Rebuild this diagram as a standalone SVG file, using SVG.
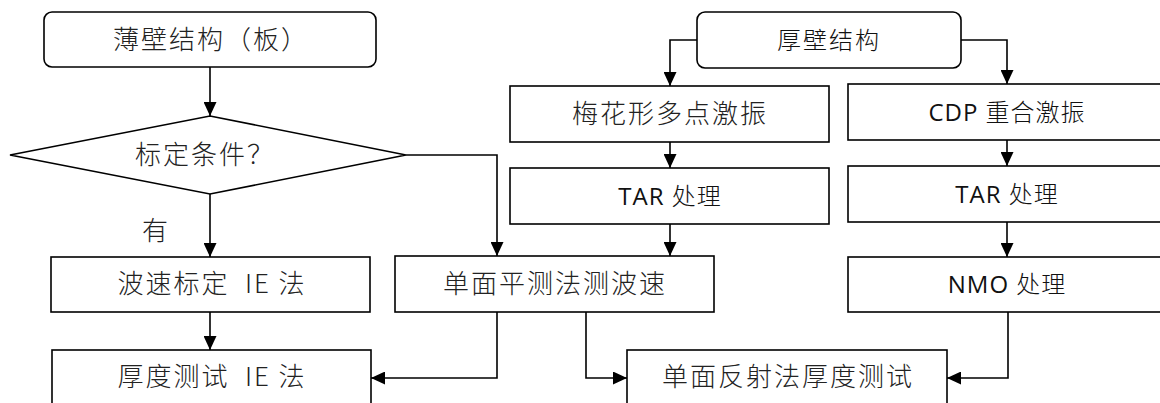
<svg xmlns="http://www.w3.org/2000/svg" width="1160" height="403" viewBox="0 0 1160 403">
<defs>
<marker id="ah" markerUnits="userSpaceOnUse" markerWidth="15" markerHeight="13" refX="14" refY="6.5" orient="auto">
<path d="M0,0 L14,6.5 L0,13 Z" fill="#000"/>
</marker>
<style>
.box{fill:#fff;stroke:#000;stroke-width:1.6}
.t{font-family:"Noto Sans CJK SC","Liberation Sans",sans-serif;font-size:26px;font-weight:300;fill:#222;text-anchor:middle;letter-spacing:2px}
.s{font-family:"Open Sans","Noto Sans CJK SC",sans-serif;font-size:24px;font-weight:300;fill:#111;text-anchor:middle;letter-spacing:1px}
.l{font-weight:400}
.c{fill:none;stroke:#000;stroke-width:1.6}
</style>
</defs>
<rect width="1160" height="403" fill="#fff"/>
<g id="thin">
<rect class="box" x="44" y="12" width="332" height="55" rx="8"/>
<text class="t" x="211" y="49">薄壁结构（板）</text>
</g>
<g id="cond">
<polygon class="box" points="210,116 406,155 210,194 10,155"/>
<text class="t" x="205" y="164">标定条件？</text>
</g>
<g id="label-you">
<text class="t" x="156" y="240">有</text>
</g>
<g id="calib">
<rect class="box" x="51" y="257" width="319" height="55"/>
<text class="t" x="212" y="293" xml:space="preserve">波速标定  IE 法</text>
</g>
<g id="thickIE">
<rect class="box" x="52" y="350" width="319" height="58"/>
<text class="t" x="212" y="386" xml:space="preserve">厚度测试  IE 法</text>
</g>
<g id="thick">
<rect class="box" x="697" y="12" width="264" height="56" rx="8"/>
<text class="s" x="829" y="49" style="letter-spacing:2px">厚壁结构</text>
</g>
<g id="plum">
<rect class="box" x="510" y="86" width="319" height="56"/>
<text class="t" x="670" y="123">梅花形多点激振</text>
</g>
<g id="cdp">
<rect class="box" x="848" y="84" width="320" height="56"/>
<text class="s" x="1007" y="121"><tspan class="l">CDP </tspan>重合激振</text>
</g>
<g id="tar1">
<rect class="box" x="510" y="168" width="319" height="56"/>
<text class="s" x="670" y="205"><tspan class="l">TAR </tspan>处理</text>
</g>
<g id="tar2">
<rect class="box" x="848" y="166" width="320" height="56"/>
<text class="s" x="1007" y="203"><tspan class="l">TAR </tspan>处理</text>
</g>
<g id="nmo">
<rect class="box" x="848" y="257" width="320" height="55"/>
<text class="s" x="1007" y="293"><tspan class="l">NMO </tspan>处理</text>
</g>
<g id="plane">
<rect class="box" x="395" y="256" width="319" height="56"/>
<text class="t" x="555" y="293">单面平测法测波速</text>
</g>
<g id="reflect">
<rect class="box" x="627" y="350" width="320" height="58"/>
<text class="t" x="788" y="386">单面反射法厚度测试</text>
</g>
<g id="connectors">
<path class="c" d="M210,67 V116" marker-end="url(#ah)"/>
<path class="c" d="M210,194 V257" marker-end="url(#ah)"/>
<path class="c" d="M210,312 V350" marker-end="url(#ah)"/>
<path class="c" d="M406,155 H497 V256" marker-end="url(#ah)"/>
<path class="c" d="M697,40 H670 V86" marker-end="url(#ah)"/>
<path class="c" d="M961,40 H1007 V84" marker-end="url(#ah)"/>
<path class="c" d="M670,142 V168" marker-end="url(#ah)"/>
<path class="c" d="M670,224 V256" marker-end="url(#ah)"/>
<path class="c" d="M1007,140 V166" marker-end="url(#ah)"/>
<path class="c" d="M1007,222 V257" marker-end="url(#ah)"/>
<path class="c" d="M497,312 V378 H371" marker-end="url(#ah)"/>
<path class="c" d="M586,312 V378 H627" marker-end="url(#ah)"/>
<path class="c" d="M1008,312 V378 H947" marker-end="url(#ah)"/>
</g>
</svg>
